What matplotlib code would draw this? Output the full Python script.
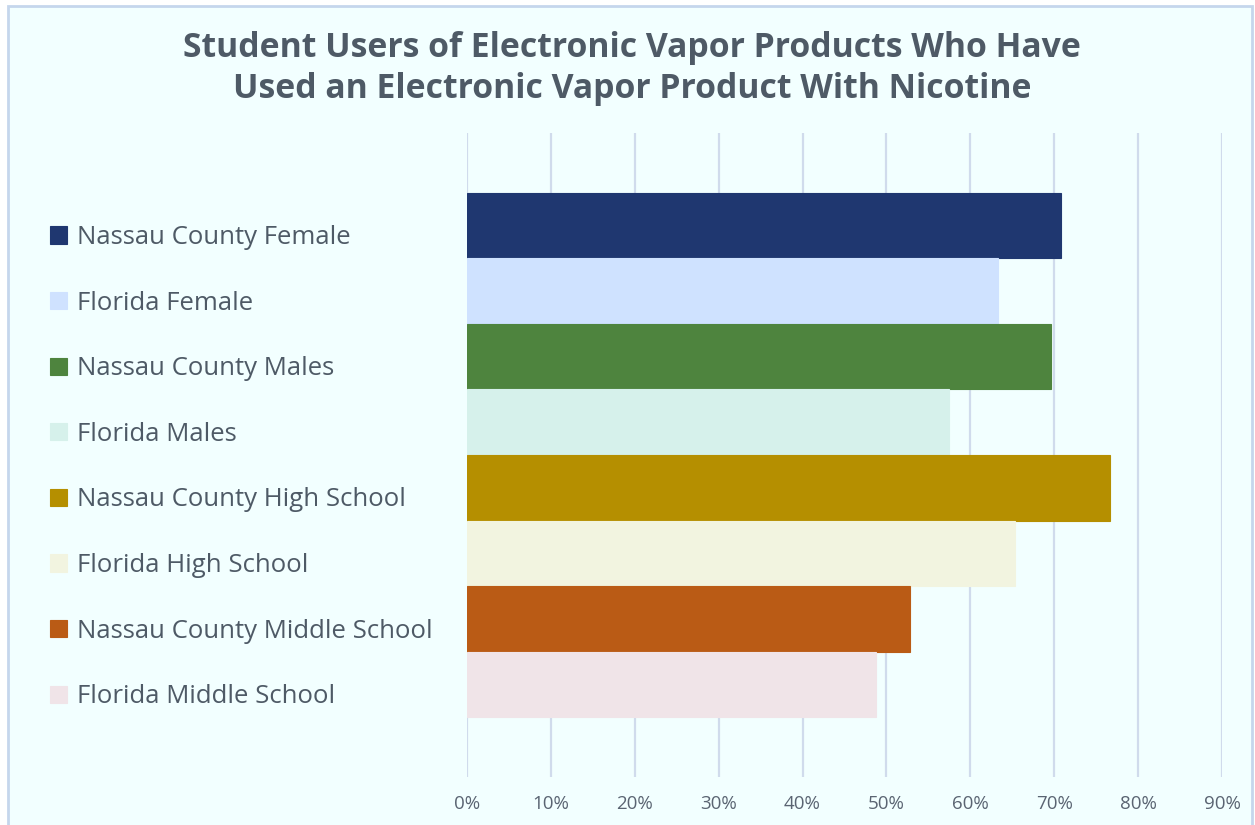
import matplotlib
matplotlib.use("Agg")
import matplotlib.pyplot as plt
from matplotlib.patches import Rectangle
from matplotlib.ticker import FuncFormatter, MultipleLocator

# share of student vapor users who used a product with nicotine
groups = ["Nassau County Female", "Florida Female", "Nassau County Males",
          "Florida Males", "Nassau County High School", "Florida High School",
          "Nassau County Middle School", "Florida Middle School"]
values = [70.8, 63.3, 69.6, 57.4, 76.7, 65.3, 52.8, 48.8]
colors = ["#1F3770", "#CFE2FF", "#4E843E", "#D6F1EB",
          "#B58F00", "#F2F4E0", "#BA5B15", "#F0E4E8"]
title_lines = ["Student Users of Electronic Vapor Products Who Have",
               "Used an Electronic Vapor Product With Nicotine"]

BG = "#F2FFFF"
GRID = "#D0DBEC"
TEXT = "#4E5A66"
FONT = ["Open Sans", "DejaVu Sans"]
W, H = 1255, 825

fig = plt.figure(figsize=(W / 100, H / 100), dpi=100)
fig.patch.set_facecolor("white")
# chart area with its thin outline
fig.patches.append(Rectangle((8 / W, -0.01), (W - 11) / W, 1 - 6 / H + 0.01,
                             transform=fig.transFigure, facecolor=BG,
                             edgecolor="#C5D6EC", linewidth=2, zorder=-5))

ax = fig.add_axes([467 / W, 1 - 777 / H, (1222 - 467) / W, (777 - 133) / H])
ax.set_facecolor("none")

handles = []
for i, (v, c) in enumerate(zip(values, colors)):
    h = ax.barh(i, v, height=1.0, color=c, edgecolor=c, linewidth=0.8, zorder=3)
    handles.append(h)

ax.set_xlim(0, 90)
ax.set_ylim(len(groups) - 0.5 + 0.916, -0.5 - 0.916)
ax.xaxis.set_major_locator(MultipleLocator(10))
ax.xaxis.set_major_formatter(FuncFormatter(lambda x, _: f"{x:.0f}%"))
ax.grid(axis="x", color=GRID, linewidth=1.6, zorder=0)
ax.set_axisbelow(True)
ax.set_yticks([])
for s in ax.spines.values():
    s.set_visible(False)
ax.tick_params(axis="x", length=0, pad=13, labelsize=13.5, labelcolor="#5A6472")
for lbl in ax.get_xticklabels():
    lbl.set_fontfamily(FONT)

fig.legend(handles, groups, loc="upper left", bbox_to_anchor=(50 / W, 1 - 225 / H),
           frameon=False, labelcolor=TEXT, handlelength=0.66, handleheight=0.66,
           handletextpad=0.38, labelspacing=1.58, borderpad=0, borderaxespad=0,
           prop={"family": FONT, "size": 18.5})

for line, base in zip(title_lines, [57, 98]):
    fig.text(632 / W, 1 - base / H, line, ha="center", va="baseline", fontsize=24.3,
             fontweight="bold", color=TEXT, family=FONT)

fig.savefig("out.png", dpi=100, facecolor=fig.get_facecolor())
